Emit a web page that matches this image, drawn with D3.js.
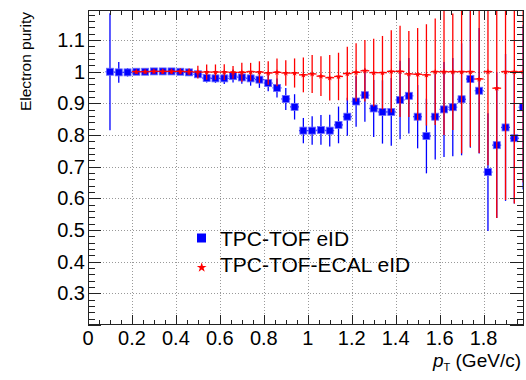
<!DOCTYPE html>
<html><head><meta charset="utf-8">
<script src="https://cdn.jsdelivr.net/npm/d3@7"></script>
<style>body{margin:0;background:#fff}svg{display:block}text{font-family:"Liberation Sans",Arial,sans-serif;fill:#000}</style>
</head><body>
<script>
// ---- data ----
const ptBins = [0.10,0.14,0.18,0.22,0.26,0.30,0.34,0.38,0.42,0.46,0.50,0.54,0.58,0.62,0.66,0.70,0.74,0.78,0.82,0.86,0.90,0.94,0.98,1.02,1.06,1.10,1.14,1.18,1.22,1.26,1.30,1.34,1.38,1.42,1.46,1.50,1.54,1.58,1.62,1.66,1.70,1.74,1.78,1.82,1.86,1.90,1.94,1.98];
const binHalfWidth = 0.02;
const tpcTofPurity = [1.000,0.998,0.998,1.000,1.000,1.001,1.001,1.001,1.000,0.998,0.992,0.980,0.979,0.979,0.986,0.982,0.979,0.975,0.964,0.949,0.914,0.889,0.814,0.814,0.816,0.814,0.832,0.858,0.906,0.926,0.884,0.873,0.873,0.911,0.924,0.858,0.797,0.858,0.881,0.888,0.913,0.977,0.940,0.683,0.768,0.824,0.790,0.888];
const tpcTofErr = [0.185,0.033,0.013,0.006,0.005,0.005,0.005,0.006,0.006,0.008,0.012,0.014,0.014,0.018,0.020,0.020,0.023,0.026,0.026,0.030,0.035,0.040,0.040,0.045,0.047,0.050,0.058,0.060,0.080,0.084,0.090,0.100,0.107,0.124,0.119,0.100,0.118,0.135,0.150,0.155,0.177,0.217,0.198,0.186,0.230,0.232,0.206,0.260];
const tpcTofEcalPurity = [null,null,null,1.000,1.000,1.001,1.001,1.001,1.001,1.000,0.999,0.999,0.999,0.999,0.998,0.998,1.000,0.999,0.996,0.998,0.996,0.996,0.990,0.993,0.986,0.981,0.985,0.994,0.998,1.003,0.997,0.997,1.001,1.001,0.993,0.992,0.990,1.000,1.000,1.000,1.000,1.000,0.977,1.000,0.948,1.000,1.000,1.000];
const tpcTofEcalErr = [null,null,null,0.006,0.006,0.007,0.008,0.008,0.009,0.010,0.020,0.024,0.024,0.025,0.020,0.030,0.028,0.034,0.037,0.044,0.040,0.046,0.055,0.060,0.063,0.072,0.075,0.085,0.092,0.097,0.107,0.116,0.130,0.144,0.136,0.146,0.160,0.168,0.200,0.184,0.258,0.237,0.234,0.295,0.410,0.405,0.416,0.350];
const xTicks = [0,0.2,0.4,0.6,0.8,1,1.2,1.4,1.6,1.8];
const yTicks = [0.3,0.4,0.5,0.6,0.7,0.8,0.9,1,1.1];
const seriesNames = ["TPC-TOF eID","TPC-TOF-ECAL eID"];
const blue = "#0000ff", red = "#ff0000";

// ---- layout ----
const W = 526, H = 380;
const L = 88, R = 524, T = 10, B = 325;
const x = d3.scaleLinear().domain([0, 1.984]).range([L, R]);
const y = d3.scaleLinear().domain([0.2, 1.195]).range([B, T]);

const svg = d3.select("body").append("svg").attr("width", W).attr("height", H);
svg.append("rect").attr("width", W).attr("height", H).attr("fill", "#fff");
svg.append("clipPath").attr("id","clip").append("rect").attr("x",L).attr("y",T).attr("width",R-L).attr("height",B-T);

// grid
const grid = svg.append("g").attr("stroke","#999").attr("stroke-width",1).attr("stroke-dasharray","1,2");
xTicks.filter(v=>v>0).forEach(v=>grid.append("line").attr("x1",Math.round(x(v))+0.5).attr("x2",Math.round(x(v))+0.5).attr("y1",T).attr("y2",B));
yTicks.forEach(v=>grid.append("line").attr("y1",Math.round(y(v))+0.5).attr("y2",Math.round(y(v))+0.5).attr("x1",L).attr("x2",R));

// series drawing
const plot = svg.append("g").attr("clip-path","url(#clip)");
function drawSeries(vals, errs, color, marker) {
  const data = ptBins.map((p,i)=>({p, v: vals[i], e: errs[i]})).filter(d=>d.v!=null);
  const g = plot.append("g");
  g.selectAll("line.v").data(data).join("line")
    .attr("x1",d=>x(d.p)).attr("x2",d=>x(d.p))
    .attr("y1",d=>y(d.v+d.e)).attr("y2",d=>y(d.v-d.e))
    .attr("stroke",color).attr("stroke-width",1.3);
  g.selectAll("line.h").data(data).join("line")
    .attr("x1",d=>x(d.p-binHalfWidth)).attr("x2",d=>x(d.p+binHalfWidth))
    .attr("y1",d=>y(d.v)).attr("y2",d=>y(d.v))
    .attr("stroke",color).attr("stroke-width",1.3);
  if (marker === "square") {
    g.selectAll("rect").data(data).join("rect")
      .attr("x",d=>x(d.p)-3.5).attr("y",d=>y(d.v)-3.5).attr("width",7).attr("height",7)
      .attr("fill",color).attr("stroke","#6a6aff").attr("stroke-width",0.8);
  } else {
    g.selectAll("path").data(data).join("path")
      .attr("d", d3.symbol(d3.symbolStar, 12)())
      .attr("transform",d=>`translate(${x(d.p)},${y(d.v)})`)
      .attr("fill",color);
  }
}
drawSeries(tpcTofPurity, tpcTofErr, blue, "square");
drawSeries(tpcTofEcalPurity, tpcTofEcalErr, red, "star");

// frame
svg.append("rect").attr("x",L+0.5).attr("y",T+0.5).attr("width",R-L-1).attr("height",B-T-1)
  .attr("fill","none").attr("stroke","#222").attr("stroke-width",1);

// ticks
const tk = svg.append("g").attr("stroke","#222").attr("stroke-width",1);
const xMinor = d3.range(0, 40).map(i=>i*0.05).filter(v=>v<=1.984);
xMinor.forEach(v=>{
  const major = xTicks.some(t=>Math.abs(t-v)<1e-6);
  const len = major ? 10 : 5;
  const px = Math.round(x(v))+0.5;
  tk.append("line").attr("x1",px).attr("x2",px).attr("y1",B).attr("y2",B-len);
  tk.append("line").attr("x1",px).attr("x2",px).attr("y1",T).attr("y2",T+len);
});
const yMinor = d3.range(0, 60).map(i=>0.2+i*0.02).filter(v=>v<=1.195);
yMinor.forEach(v=>{
  const major = Math.abs(Math.round(v*10)-v*10)<1e-6;
  const py = Math.round(y(v))+0.5;
  tk.append("line").attr("y1",py).attr("y2",py).attr("x1",L).attr("x2",L+(major?13:7));
  tk.append("line").attr("y1",py).attr("y2",py).attr("x1",R).attr("x2",R-(major?14:7));
});

// tick labels
const fmt = d3.format("~g");
svg.append("g").selectAll("text").data(xTicks).join("text")
  .attr("x",d=>x(d)).attr("y",345).attr("text-anchor","middle").attr("font-size",20).text(d=>fmt(d));
svg.append("g").selectAll("text").data(yTicks).join("text")
  .attr("x",85).attr("y",d=>y(d)+7).attr("text-anchor","end").attr("font-size",20).text(d=>fmt(d));

// axis titles
const xt = svg.append("text").attr("x",521).attr("y",367).attr("text-anchor","end").attr("font-size",19);
xt.append("tspan").attr("font-style","italic").text("p");
xt.append("tspan").attr("font-size",11).attr("dy",4).text("T");
xt.append("tspan").attr("dy",-4).text(" (GeV/c)");
svg.append("text").attr("transform","translate(31,12) rotate(-90)").attr("text-anchor","end")
  .attr("font-size",15.5).text("Electron purity");

// legend
const lg = svg.append("g");
lg.append("rect").attr("x",197).attr("y",233.5).attr("width",9).attr("height",9).attr("fill",blue);
lg.append("path").attr("d",d3.symbol(d3.symbolStar,30)()).attr("transform","translate(201.7,267.5)").attr("fill",red);
lg.append("text").attr("x",220).attr("y",246).attr("font-size",21).text(seriesNames[0]);
lg.append("text").attr("x",220).attr("y",271.7).attr("font-size",21).text(seriesNames[1]);
</script>
</body></html>
